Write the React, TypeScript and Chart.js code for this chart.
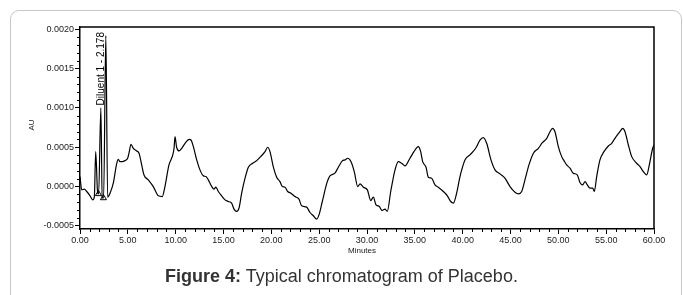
import React, { useEffect, useRef } from "react";
import { Chart, registerables } from "chart.js";

Chart.register(...registerables);

// Retention time (minutes)
const times: number[] = [
  0.0, 0.18, 0.45, 0.7, 1.05, 1.33, 1.5, 1.64, 1.85, 1.95, 2.18, 2.32, 2.47, 2.7, 2.89,
  3.14, 3.48, 3.83, 4.0, 4.18, 4.42, 4.7, 4.98, 5.12, 5.33, 5.57, 5.92, 6.17, 6.45, 6.69,
  7.14, 7.66, 8.19, 8.6, 8.88, 9.3, 9.69, 9.83, 9.93, 10.1, 10.35, 10.63, 10.98, 11.4, 11.6,
  11.85, 12.2, 12.54, 12.9, 13.17, 13.41, 13.77, 14.0, 14.2, 14.46, 14.81, 15.16, 15.5, 15.85,
  16.1, 16.38, 16.62, 16.9, 17.25, 17.6, 18.05, 18.47, 18.89, 19.34, 19.62, 19.86, 20.2, 20.56,
  20.9, 21.15, 21.43, 21.71, 22.05, 22.47, 22.89, 23.17, 23.69, 24.04, 24.39, 24.74, 24.98,
  25.33, 25.8, 26.13, 26.65, 27.0, 27.42, 27.7, 27.98, 28.33, 28.67, 29.03, 29.27, 29.62,
  30.04, 30.39, 30.66, 30.94, 31.29, 31.57, 31.88, 32.12, 32.48, 32.93, 33.27, 33.62, 33.97,
  34.49, 34.91, 35.36, 35.61, 35.82, 36.17, 36.41, 36.76, 37.11, 37.45, 37.98, 38.4, 38.75,
  39.03, 39.37, 39.72, 39.9, 40.24, 40.76, 41.36, 41.81, 42.16, 42.51, 42.96, 43.38, 43.9,
  44.42, 44.95, 45.47, 45.82, 46.17, 46.51, 46.93, 47.39, 47.91, 48.33, 48.79, 49.13, 49.39,
  49.65, 50.0, 50.35, 50.59, 50.87, 51.22, 51.56, 51.98, 52.26, 52.54, 52.79, 53.03, 53.31,
  53.6, 53.76, 54.01, 54.35, 54.77, 55.23, 55.58, 55.92, 56.44, 56.73, 56.97, 57.32, 57.67,
  58.12, 58.54, 58.88, 59.24, 59.51, 59.86, 60.0,
];

// Absorbance in units of 1e-4 AU
const absorbance: number[] = [
  1.27, -0.42, -0.33, -0.63, -1.18, -1.69, -1.27, 4.44, -0.84, -0.93, 10.0, -1.4, -1.45, 19.2, -1.35,
  -0.84, 0.43, 2.88, 3.47, 3.17, 3.17, 3.3, 3.6, 4.24, 5.38, 4.87, 4.53, 4.24, 2.75, 1.48,
  0.85, 0.0, -1.18, -1.27, 0.0, 2.75, 4.0, 4.87, 6.35, 5.0, 4.53, 4.87, 5.5, 6.0, 5.92,
  5.08, 3.39, 2.12, 1.36, 1.27, 0.85, 0.0, -0.33, -0.08, -0.63, -1.18, -1.69, -1.9, -2.1,
  -2.87, -3.17, -2.75, -0.84, 1.06, 2.46, 2.97, 3.3, 3.81, 4.44, 5.0, 4.44, 2.54, 1.19,
  0.63, 0.0, -0.08, -0.63, -0.84, -1.27, -1.6, -2.45, -2.62, -3.3, -3.72, -4.14, -3.6,
  -1.9, 0.43, 1.36, 1.7, 2.46, 3.26, 3.39, 3.6, 3.17, 1.9, 0.0, 0.34, -0.08,
  -0.42, -1.78, -1.35, -2.32, -2.54, -3.05, -2.87, -3.17, -0.63, 2.12, 3.17, 2.97, 2.63,
  3.6, 4.44, 5.08, 4.44, 3.17, 2.46, 1.19, 1.06, 0.21, -0.08, -0.63, -1.18, -1.9,
  -2.1, -0.84, 1.27, 2.12, 3.39, 4.02, 4.87, 5.92, 6.22, 5.5, 3.39, 2.12, 1.61,
  1.06, 0.0, -0.72, -0.93, -0.63, 0.85, 2.75, 4.24, 4.87, 5.58, 6.14, 6.98, 7.41,
  6.98, 5.08, 3.81, 3.3, 2.75, 2.33, 1.7, 1.48, 0.51, 0.21, 0.63, 0.21, -0.2,
  -0.2, -0.63, 1.27, 3.39, 4.44, 5.16, 5.5, 6.14, 6.98, 7.41, 6.98, 5.29, 3.81,
  3.05, 2.54, 1.9, 1.48, 2.75, 4.87, 5.3,
];
const ABS_UNIT = 1e-4;

// Baseline markers (triangles)
const markerTimes: number[] = [1.93, 2.45];
const markerAbs: number[] = [-0.93, -1.45];

// Peak annotation
const peakLabel = "Diluent 1 - 2.178";
const peakTime = 2.178;
const peakAbs = 10.1;

const xTicks: number[] = [0, 5, 10, 15, 20, 25, 30, 35, 40, 45, 50, 55, 60];
const yTicks: number[] = [-0.0005, 0.0, 0.0005, 0.001, 0.0015, 0.002];
const xMinorStep = 1;
const yMinorStep = 0.0001;
const xRange = [0, 60];
const yRange = [-0.00054, 0.00203];

const FONT = "'Liberation Sans', Arial, Helvetica, sans-serif";

const decorPlugin = {
  id: "decor",
  afterDraw(chart: any) {
    const ctx = chart.ctx;
    const xs = chart.scales.x;
    const ys = chart.scales.y;
    const a = chart.chartArea;
    ctx.save();
    // frame top & right
    ctx.strokeStyle = "#000";
    ctx.lineWidth = 1.5;
    ctx.beginPath();
    ctx.moveTo(a.left, a.top);
    ctx.lineTo(a.right, a.top);
    ctx.lineTo(a.right, a.bottom);
    ctx.stroke();
    // minor ticks
    ctx.lineWidth = 1;
    ctx.beginPath();
    for (let v = xRange[0]; v <= xRange[1] + 1e-9; v += xMinorStep) {
      if (Math.abs(v % 5) < 1e-9) continue;
      const px = Math.round(xs.getPixelForValue(v)) + 0.5;
      ctx.moveTo(px, a.bottom);
      ctx.lineTo(px, a.bottom + 3);
    }
    for (let i = -5; i <= 20; i++) {
      if (i % 5 === 0) continue;
      const v = i * yMinorStep;
      const py = Math.round(ys.getPixelForValue(v)) + 0.5;
      ctx.moveTo(a.left, py);
      ctx.lineTo(a.left - 3, py);
    }
    ctx.stroke();
    // peak label
    const lx = xs.getPixelForValue(peakTime);
    const ly = ys.getPixelForValue((peakAbs + 0.1) * ABS_UNIT);
    ctx.translate(lx, ly);
    ctx.rotate(-Math.PI / 2);
    ctx.fillStyle = "#000";
    ctx.font = `10px ${FONT}`;
    ctx.textAlign = "left";
    ctx.textBaseline = "middle";
    ctx.fillText(peakLabel, 1, 0);
    ctx.restore();
    // axis titles
    ctx.save();
    ctx.fillStyle = "#222";
    ctx.font = `8px ${FONT}`;
    ctx.textAlign = "center";
    ctx.textBaseline = "middle";
    ctx.fillText("Minutes", (a.left + a.right) / 2 - 5, a.bottom + 22);
    ctx.translate(32, (a.top + a.bottom) / 2 - 3);
    ctx.rotate(-Math.PI / 2);
    ctx.fillText("AU", 0, 0);
    ctx.restore();
  },
};

export default function App() {
  const canvasRef = useRef<HTMLCanvasElement | null>(null);

  useEffect(() => {
    if (!canvasRef.current) return;
    const data = times.map((t, i) => ({ x: t, y: absorbance[i] * ABS_UNIT }));
    const markers = markerTimes.map((t, i) => ({ x: t, y: markerAbs[i] * ABS_UNIT }));
    const chart = new Chart(canvasRef.current, {
      type: "line",
      data: {
        datasets: [
          {
            data,
            borderColor: "#000",
            borderWidth: 1.2,
            pointRadius: 0,
            cubicInterpolationMode: "monotone",
            fill: false,
          },
          {
            data: markers,
            showLine: false,
            pointStyle: "triangle",
            pointRadius: 3.5,
            borderColor: "#000",
            backgroundColor: "#fff",
            pointBorderWidth: 1,
          },
        ],
      } as any,
      options: {
        animation: false,
        responsive: true,
        maintainAspectRatio: false,
        layout: { padding: { left: 10, top: 27, right: 29, bottom: 0 } },
        plugins: { legend: { display: false }, tooltip: { enabled: false } },
        scales: {
          x: {
            type: "linear",
            min: xRange[0],
            max: xRange[1],
            afterBuildTicks: (s: any) => {
              s.ticks = xTicks.map((v) => ({ value: v }));
            },
            afterFit: (s: any) => {
              s.height = 66;
            },
            ticks: {
              callback: (v: any) => Number(v).toFixed(2),
              font: { family: FONT, size: 9 },
              color: "#222",
              padding: 1,
              maxRotation: 0,
              autoSkip: false,
            },
            grid: { display: true, drawOnChartArea: false, drawTicks: true, tickLength: 5, color: "#000" },
            border: { display: true, color: "#000", width: 1.5 },
          },
          y: {
            type: "linear",
            min: yRange[0],
            max: yRange[1],
            afterBuildTicks: (s: any) => {
              s.ticks = yTicks.map((v) => ({ value: v }));
            },
            afterFit: (s: any) => {
              s.width = 70;
            },
            ticks: {
              callback: (v: any) => Number(v).toFixed(4),
              font: { family: FONT, size: 9 },
              color: "#222",
              padding: 1,
              autoSkip: false,
            },
            grid: { display: true, drawOnChartArea: false, drawTicks: true, tickLength: 5, color: "#000" },
            border: { display: true, color: "#000", width: 1.5 },
          },
        },
      } as any,
      plugins: [decorPlugin],
    });
    return () => chart.destroy();
  }, []);

  return (
    <div style={{ position: "fixed", left: 0, top: 0, width: 683, height: 295, background: "#fff", overflow: "hidden" }}>
      <div
        style={{
          position: "absolute",
          left: 10,
          top: 10,
          width: 672,
          height: 400,
          border: "1px solid #c8c8c8",
          borderRadius: 9,
          boxSizing: "border-box",
        }}
      />
      <div style={{ position: "absolute", left: 0, top: 0, width: 683, height: 295 }}>
        <canvas ref={canvasRef} />
      </div>
      <div
        style={{
          position: "absolute",
          left: 0,
          width: 683,
          top: 266,
          textAlign: "center",
          fontFamily: FONT,
          fontSize: 18,
          color: "#333",
        }}
      >
        <b>Figure 4:</b> Typical chromatogram of Placebo.
      </div>
    </div>
  );
}
